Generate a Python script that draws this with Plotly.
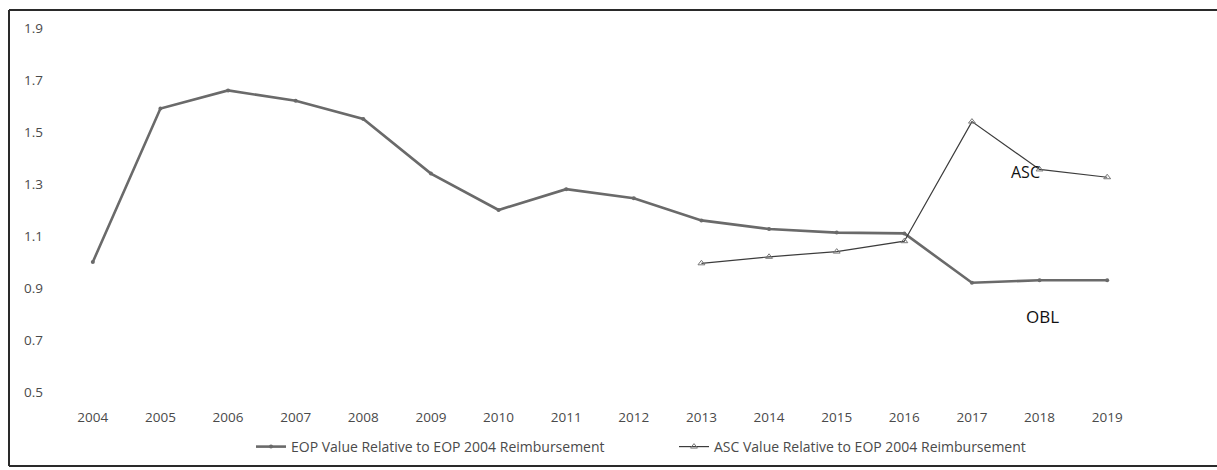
import plotly.graph_objects as go

years = [str(y) for y in range(2004, 2020)]
eop_values = [1.00, 1.59, 1.66, 1.62, 1.55, 1.34, 1.20, 1.28, 1.245, 1.16, 1.127, 1.113, 1.11, 0.92, 0.93, 0.93]
asc_years = [str(y) for y in range(2013, 2020)]
asc_values = [0.995, 1.02, 1.04, 1.08, 1.54, 1.356, 1.326]
y_ticks = [0.5, 0.7, 0.9, 1.1, 1.3, 1.5, 1.7, 1.9]

W, H = 1217, 470
L, R, T, B = 59, 76, 15, 65
pw, ph = W - L - R, H - T - B

def px_x(p):
    return (p - L) / pw

def px_y(p):
    return (H - B - p) / ph

fig = go.Figure()
fig.add_trace(go.Scatter(
    x=years, y=eop_values, mode="lines+markers",
    name="EOP Value Relative to EOP 2004 Reimbursement",
    line=dict(color="#6a6a6a", width=2.6),
    marker=dict(symbol="circle", size=4, color="#6a6a6a"),
))
fig.add_trace(go.Scatter(
    x=asc_years, y=asc_values, mode="lines+markers",
    name="ASC Value Relative to EOP 2004 Reimbursement",
    line=dict(color="#3c3c3c", width=1.2),
    marker=dict(symbol="triangle-up-open", size=6, color="#777777", line=dict(width=1)),
))

font = "'Open Sans', Lato, sans-serif"
fig.update_layout(
    width=W, height=H,
    margin=dict(l=L, r=R, t=T, b=B, autoexpand=False),
    paper_bgcolor="white", plot_bgcolor="white",
    font=dict(family=font, color="#4a4a4a", size=13),
    xaxis=dict(type="category", categoryorder="array", categoryarray=years,
               range=[-0.5, 15.5], showgrid=False, zeroline=False, showline=False,
               ticks="", tickfont=dict(size=13.5, color="#4a4a4a"), ticklabelstandoff=2),
    yaxis=dict(range=[0.45, 1.95], tickvals=y_ticks, ticktext=[f"{v:.1f}" for v in y_ticks],
               showgrid=False, zeroline=False, showline=False, ticks="",
               tickfont=dict(size=13.5, color="#4a4a4a"), ticklabelstandoff=15),
    legend=dict(orientation="h", xanchor="left", yanchor="middle",
                x=px_x(251), y=px_y(447), font=dict(size=14, color="#4a4a4a"),
                itemwidth=30, entrywidth=378, entrywidthmode="pixels",
                bgcolor="rgba(0,0,0,0)"),
    showlegend=True,
)

fig.add_annotation(x=13.79, y=1.346, xref="x", yref="y", text="ASC", showarrow=False,
                   font=dict(size=16, color="#111111", family=font))
fig.add_annotation(x=14.04, y=0.792, xref="x", yref="y", text="OBL", showarrow=False,
                   font=dict(size=17, color="#111111", family=font))

border = dict(color="#2a2a2a", width=2)
fig.add_shape(type="line", xref="paper", yref="paper", x0=px_x(9), x1=px_x(1217), y0=px_y(10), y1=px_y(10), line=border)
fig.add_shape(type="line", xref="paper", yref="paper", x0=px_x(9), x1=px_x(9), y0=px_y(10), y1=px_y(466), line=border)
fig.add_shape(type="line", xref="paper", yref="paper", x0=px_x(9), x1=px_x(1217), y0=px_y(466), y1=px_y(466), line=border)

fig.write_html("out.html")
